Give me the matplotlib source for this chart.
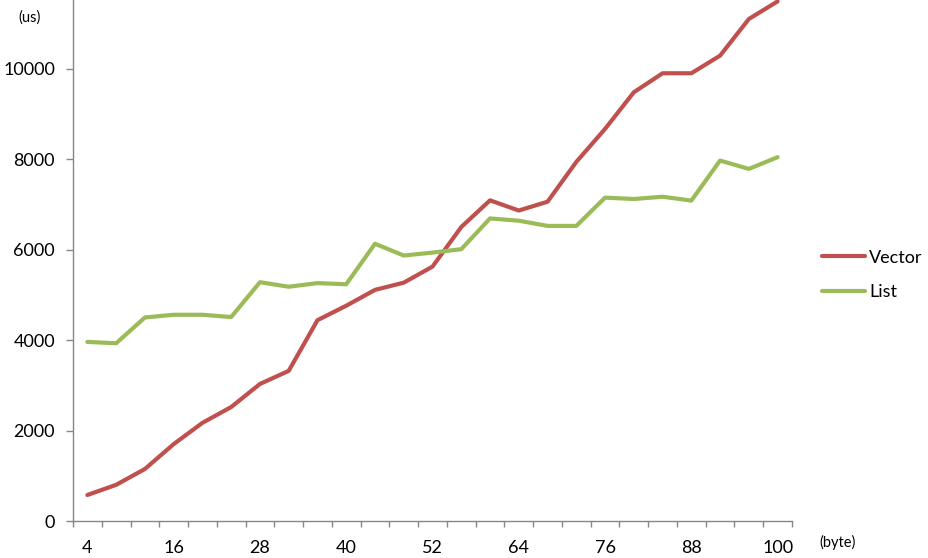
import matplotlib.pyplot as plt
import numpy as np

plt.rcParams['font.family'] = ['Lato', 'DejaVu Sans']

sizes = [4, 8, 12, 16, 20, 24, 28, 32, 36, 40, 44, 48, 52,
         56, 60, 64, 68, 72, 76, 80, 84, 88, 92, 96, 100]
vector = [575, 800, 1150, 1700, 2170, 2520, 3030, 3320, 4440, 4760, 5110, 5270, 5625,
          6500, 7090, 6865, 7060, 7940, 8670, 9480, 9900, 9900, 10290, 11100, 11490]
lst = [3960, 3930, 4500, 4560, 4560, 4510, 5280, 5180, 5260, 5235, 6130, 5870, 5935,
       6010, 6690, 6640, 6525, 6525, 7150, 7120, 7170, 7085, 7970, 7785, 8045]

axis_col = '#868686'

fig = plt.figure(figsize=(9.29, 5.58), dpi=100)
ax = fig.add_axes([73/929, 1 - 521/558, 719/929, 521/558])

pos = np.arange(len(sizes))
ax.plot(pos, vector, color='#C0504D', lw=3, label='Vector', solid_capstyle='round')
ax.plot(pos, lst, color='#9BBB59', lw=3, label='List', solid_capstyle='round')

ax.set_xlim(-0.5, len(sizes) - 0.5)
ax.set_ylim(0, 11520)

ax.set_xticks(pos[::3])
ax.set_xticklabels([str(s) for s in sizes[::3]])
ax.set_xticks(np.arange(-0.5, len(sizes), 1), minor=True)
ax.tick_params(axis='x', which='major', length=0, pad=14, labelsize=13)
ax.tick_params(axis='x', which='minor', length=4, width=1, color=axis_col, direction='out')

ax.set_yticks(np.arange(0, 10001, 2000))
ax.tick_params(axis='y', length=5, width=1, color=axis_col, pad=8, labelsize=13)

for side in ['top', 'right']:
    ax.spines[side].set_visible(False)
for side in ['left', 'bottom']:
    ax.spines[side].set_color(axis_col)
    ax.spines[side].set_linewidth(1)

fig.text(30/929, 1 - 18/558, '(us)', fontsize=10.5, ha='center', va='center')
fig.text(838/929, 1 - 542/558, '(byte)', fontsize=10.5, ha='center', va='center')

fig.legend(loc='center left', bbox_to_anchor=(822/929, 1 - 275/558), frameon=False,
           fontsize=13, handlelength=2.4, labelspacing=1.05, handletextpad=0.2,
           borderpad=0, borderaxespad=0)

plt.savefig('out.png', dpi=100)
plt.close()
